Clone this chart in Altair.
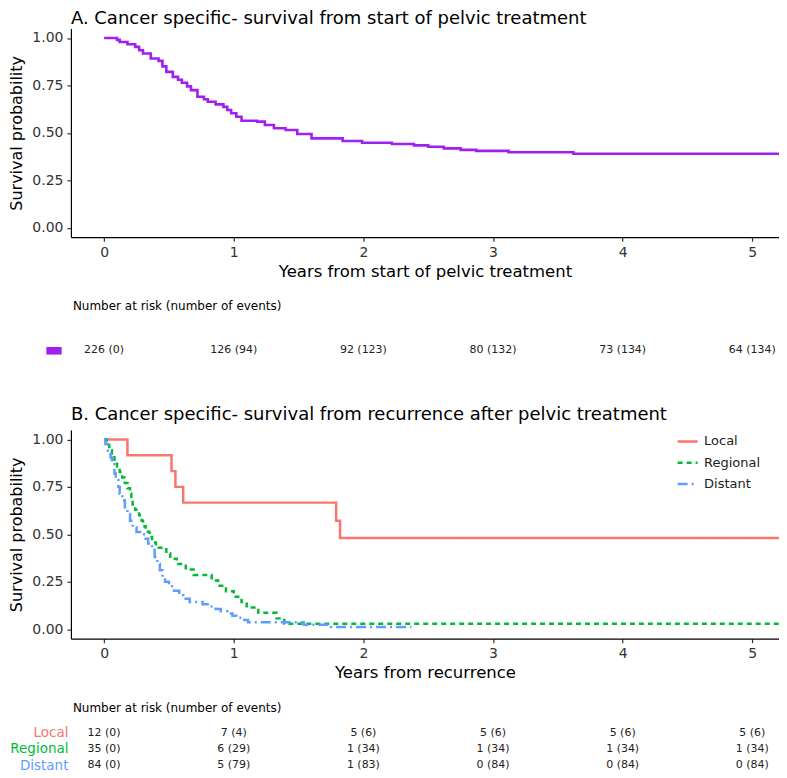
import altair as alt
import pandas as pd

FONT = "DejaVu Sans"

# ---------------- data ----------------
# Panel A: overall cancer-specific survival (Kaplan-Meier steps)
a_time = [0.00, 0.10, 0.12, 0.18, 0.24, 0.27, 0.30, 0.36, 0.42, 0.45, 0.48, 0.53, 0.57,
          0.60, 0.64, 0.67, 0.72, 0.77, 0.80, 0.86, 0.92, 0.95, 0.98, 1.02, 1.06, 1.18,
          1.24, 1.31, 1.40, 1.49, 1.60, 1.84, 1.99, 2.22, 2.39, 2.50, 2.62, 2.75, 2.87,
          3.12, 3.62, 5.50]
a_surv = [1.000, 0.990, 0.979, 0.967, 0.953, 0.935, 0.918, 0.892, 0.879, 0.850, 0.821,
          0.795, 0.780, 0.764, 0.745, 0.725, 0.690, 0.677, 0.664, 0.650, 0.637, 0.620,
          0.603, 0.585, 0.564, 0.559, 0.541, 0.524, 0.515, 0.494, 0.471, 0.457, 0.448,
          0.441, 0.434, 0.427, 0.418, 0.410, 0.405, 0.398, 0.390, 0.390]

# Panel B: by recurrence site
local_time = [0.00, 0.18, 0.52, 0.55, 0.61, 1.79, 1.82, 5.50]
local_surv = [1.000, 0.917, 0.833, 0.750, 0.667, 0.571, 0.481, 0.481]

regional_time = [0.00, 0.02, 0.04, 0.06, 0.08, 0.10, 0.12, 0.14, 0.16, 0.18, 0.20, 0.21,
                 0.22, 0.24, 0.27, 0.29, 0.30, 0.32, 0.35, 0.37, 0.40, 0.48, 0.51, 0.56,
                 0.63, 0.69, 0.83, 0.88, 0.94, 1.00, 1.06, 1.10, 1.19, 1.33, 1.39, 5.50]
regional_surv = [1.000, 0.971, 0.943, 0.914, 0.886, 0.857, 0.829, 0.800, 0.771, 0.743,
                 0.714, 0.686, 0.657, 0.629, 0.600, 0.571, 0.543, 0.514, 0.486, 0.457,
                 0.429, 0.400, 0.371, 0.343, 0.314, 0.286, 0.257, 0.229, 0.200, 0.171,
                 0.143, 0.114, 0.086, 0.057, 0.029, 0.029]

distant_time = [0.00, 0.01, 0.03, 0.05, 0.06, 0.08, 0.09, 0.11, 0.12, 0.14, 0.16, 0.18,
                0.20, 0.22, 0.25, 0.29, 0.32, 0.34, 0.37, 0.39, 0.41, 0.43, 0.45, 0.47,
                0.50, 0.54, 0.58, 0.61, 0.66, 0.76, 0.81, 0.86, 0.90, 0.95, 0.99, 1.02,
                1.06, 1.11, 1.54, 1.75, 2.37]
distant_surv = [1.000, 0.976, 0.940, 0.905, 0.869, 0.821, 0.786, 0.750, 0.714, 0.679,
                0.643, 0.607, 0.571, 0.536, 0.512, 0.500, 0.476, 0.452, 0.417, 0.381,
                0.345, 0.310, 0.274, 0.250, 0.226, 0.202, 0.179, 0.160, 0.143, 0.131,
                0.119, 0.107, 0.095, 0.083, 0.071, 0.060, 0.048, 0.036, 0.024, 0.012,
                0.012]

groups = ["Local", "Regional", "Distant"]
group_colors = ["#F8766D", "#00BA38", "#619CFF"]
group_dashes = [[1, 0], [5, 4], [10, 4, 2, 4]]

years = [0, 1, 2, 3, 4, 5]
y_ticks = [0.0, 0.25, 0.5, 0.75, 1.0]
risk_all = ["226 (0)", "126 (94)", "92 (123)", "80 (132)", "73 (134)", "64 (134)"]
risk_local = ["12 (0)", "7 (4)", "5 (6)", "5 (6)", "5 (6)", "5 (6)"]
risk_regional = ["35 (0)", "6 (29)", "1 (34)", "1 (34)", "1 (34)", "1 (34)"]
risk_distant = ["84 (0)", "5 (79)", "1 (83)", "0 (84)", "0 (84)", "0 (84)"]

PURPLE = "#A020F0"

# ---------------- tables ----------------
dfA = pd.DataFrame({"t": a_time, "s": a_surv})
dfB = pd.concat([
    pd.DataFrame({"t": local_time, "s": local_surv, "group": "Local"}),
    pd.DataFrame({"t": regional_time, "s": regional_surv, "group": "Regional"}),
    pd.DataFrame({"t": distant_time, "s": distant_surv, "group": "Distant"}),
], ignore_index=True)

riskA = pd.DataFrame({"year": years, "txt": risk_all, "strata": "All"})
riskB = pd.concat([
    pd.DataFrame({"year": years, "txt": risk_local, "strata": "Local"}),
    pd.DataFrame({"year": years, "txt": risk_regional, "strata": "Regional"}),
    pd.DataFrame({"year": years, "txt": risk_distant, "strata": "Distant"}),
], ignore_index=True)

# ---------------- shared settings ----------------
W = 709
X_DOMAIN = [-0.256, 5.206]
Y_DOMAIN = [-0.05, 1.05]


def xscale():
    return alt.Scale(domain=X_DOMAIN, nice=False, zero=False)


def yscale():
    return alt.Scale(domain=Y_DOMAIN, nice=False, zero=False)


def x_axis(title):
    return alt.Axis(title=title, values=years, format="d", grid=False,
                    tickSize=4, tickColor="#333333", tickWidth=1.2,
                    domainColor="#000000", domainWidth=1.2,
                    labelFont=FONT, labelFontSize=14, labelColor="#333333", labelPadding=4,
                    titleFont=FONT, titleFontSize=16.5, titleFontWeight="normal",
                    titleColor="#000000", titlePadding=4)


def y_axis():
    return alt.Axis(title="Survival probability", values=y_ticks, format=".2f", grid=False,
                    tickSize=4, tickColor="#333333", tickWidth=1.2,
                    domainColor="#000000", domainWidth=1.2,
                    labelFont=FONT, labelFontSize=14, labelColor="#333333", labelPadding=4,
                    titleFont=FONT, titleFontSize=16, titleFontWeight="normal",
                    titleColor="#000000", titlePadding=7)


def main_title(text, offset):
    return alt.TitleParams(text=text, anchor="start", frame="group", font=FONT,
                           fontSize=18, fontWeight="normal", color="#000000", offset=offset)


def table_title(offset):
    return alt.TitleParams(text="Number at risk (number of events)", anchor="start",
                           frame="group", font=FONT, fontSize=12, fontWeight="normal",
                           color="#000000", offset=offset, dx=2)


# ---------------- panel A ----------------
chartA = alt.Chart(dfA).mark_line(
    interpolate="step-after", color=PURPLE, strokeWidth=2.6, clip=True
).encode(
    x=alt.X("t:Q", scale=xscale(), axis=x_axis("Years from start of pelvic treatment")),
    y=alt.Y("s:Q", scale=yscale(), axis=y_axis()),
).properties(width=W, height=209,
             title=main_title("A. Cancer specific- survival from start of pelvic treatment", 0))

tableA = alt.Chart(riskA).mark_text(font=FONT, fontSize=11, color="#222222").encode(
    x=alt.X("year:Q", scale=xscale(), axis=None),
    y=alt.Y("strata:N", scale=alt.Scale(type="point", padding=0.5, align=0.231),
            axis=alt.Axis(title=None, domain=False, ticks=False, tickSize=0,
                          labelExpr="'\u25ac'", labelColor=PURPLE, labelFont=FONT,
                          labelFontSize=20, labelPadding=8)),
    text="txt:N",
).properties(width=W, height=45.9, title=table_title(26))

# ---------------- panel B ----------------
legend = alt.Legend(title=None, orient="none", legendX=606, legendY=0,
                    symbolType="stroke", symbolSize=400, symbolStrokeWidth=2.5,
                    labelFont=FONT, labelFontSize=13, labelColor="#222222",
                    labelOffset=5, rowPadding=2.3)

chartB = alt.Chart(dfB).mark_line(
    interpolate="step-after", strokeWidth=2.5, clip=True
).encode(
    x=alt.X("t:Q", scale=xscale(), axis=x_axis("Years from recurrence")),
    y=alt.Y("s:Q", scale=yscale(), axis=y_axis()),
    color=alt.Color("group:N", scale=alt.Scale(domain=groups, range=group_colors),
                    legend=legend),
    strokeDash=alt.StrokeDash("group:N", scale=alt.Scale(domain=groups, range=group_dashes),
                              legend=legend),
    detail="group:N",
).properties(width=W, height=209,
             title=main_title("B. Cancer specific- survival from recurrence after pelvic treatment", 6.4))

color_expr = " : ".join(
    f"datum.value == '{g}' ? '{c}'" for g, c in zip(groups[:-1], group_colors[:-1])
) + f" : '{group_colors[-1]}'"

tableB = alt.Chart(riskB).mark_text(font=FONT, fontSize=11, color="#222222").encode(
    x=alt.X("year:Q", scale=xscale(), axis=None),
    y=alt.Y("strata:N", scale=alt.Scale(type="point", domain=groups, padding=0.3),
            axis=alt.Axis(title=None, domain=False, ticks=False, tickSize=0,
                          labelColor=alt.expr(color_expr), labelFont=FONT,
                          labelFontSize=13.5, labelPadding=3)),
    text="txt:N",
).properties(width=W, height=42.9, title=table_title(10.75))

chart = alt.vconcat(chartA, tableA, chartB, tableB, spacing=20).resolve_scale(
    x="independent", y="independent", color="independent", strokeDash="independent"
).configure_view(stroke=None).properties(
    padding={"top": 2, "left": 0, "right": 0, "bottom": 0}, background="white"
)

chart.save("out.html", embed_options={"renderer": "svg", "actions": False})
